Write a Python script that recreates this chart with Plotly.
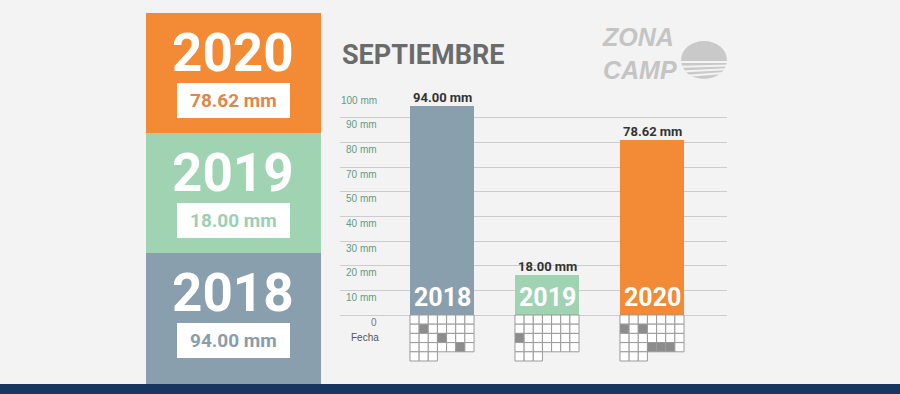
import plotly.graph_objects as go

# ---------------- data ----------------
years = ["2018", "2019", "2020"]
rain_mm = [94.00, 18.00, 78.62]
value_labels = ["94.00 mm", "18.00 mm", "78.62 mm"]
bar_colors = ["#8a9fad", "#9fd3b2", "#f38a36"]
box_text_colors = ["#8a9dab", "#9ccfb3", "#e0874a"]
tick_labels = ["0", "10 mm", "20 mm", "30 mm", "40 mm", "50 mm", "70 mm", "80 mm", "90 mm", "100 mm"]
# calendar cells (index 0..30 in a 7-column grid) that are highlighted
rain_cells = {"2018": [8, 17, 26], "2019": [14], "2020": [7, 9, 24, 25, 26]}
n_cells = 31
title = "SEPTIEMBRE"

# ---------------- layout geometry ----------------
W, H = 900, 394
ML, MR, MT, MB = 340, 173, 93, 30
PW, PH = W - ML - MR, H - MT - MB
PX_PER_UNIT = 2.22            # px per mm
Y_MIN = -(PH - 100 * PX_PER_UNIT) / PX_PER_UNIT
X_PX_PER_CAT = 105
X0 = (442 - ML) / X_PX_PER_CAT
X_RANGE = [-X0, PW / X_PX_PER_CAT - X0]
BAR_W = 0.61

def px_x(px):
    return (px - ML) / PW

def px_y(py):
    return (H - MB - py) / PH

BOLDF = "Roboto, Liberation Sans, Arial, sans-serif"
xs = list(range(len(years)))

fig = go.Figure()
fig.add_trace(go.Bar(x=xs, y=rain_mm, width=BAR_W, marker=dict(color=bar_colors, line=dict(width=0)),
                     hoverinfo="skip", showlegend=False))

shapes = []
annotations = []

# tick labels (evenly spaced gridlines, as in the original)
tick_vals = [i * 100 / (len(tick_labels) - 1) for i in range(len(tick_labels))]
for tv, tl in zip(tick_vals, tick_labels):
    annotations.append(dict(x=px_x(378), y=tv, xref="paper", yref="y", text=tl, showarrow=False,
                            xanchor="right", yanchor="middle", yshift=-7, borderpad=0,
                            font=dict(family="Liberation Sans, Arial", size=10,
                                      color="#777777" if tl == "0" else "#5f9c85")))
annotations.append(dict(x=px_x(365), y=0, xref="paper", yref="y", text="Fecha", showarrow=False,
                        xanchor="center", yanchor="middle", yshift=-22, borderpad=0,
                        font=dict(family="Liberation Sans, Arial", size=10, color="#555555")))

# value labels and year labels on the bars
for x, v, lab, yr in zip(xs, rain_mm, value_labels, years):
    annotations.append(dict(x=x, y=v, text="<b>%s</b>" % lab, showarrow=False, yanchor="middle", yshift=9,
                            borderpad=0, font=dict(family=BOLDF, size=13, color="#333333")))
    annotations.append(dict(x=x, y=0, text="<b>%s</b>" % yr, showarrow=False, yanchor="middle", yshift=18,
                            borderpad=0, font=dict(family=BOLDF, size=25, color="white")))

# calendars below bars
cell_w = BAR_W / 7
cell_h = 9.2 / PX_PER_UNIT
for x, yr in zip(xs, years):
    left = x - BAR_W / 2
    for i in range(n_cells):
        r, c = divmod(i, 7)
        shapes.append(dict(type="rect", xref="x", yref="y",
                           x0=left + c * cell_w, x1=left + (c + 1) * cell_w,
                           y0=-(r + 1) * cell_h, y1=-r * cell_h,
                           line=dict(color="#9a9a9a", width=1),
                           fillcolor="#8c8c8c" if i in rain_cells[yr] else "white", layer="above"))

# left panel blocks (top to bottom: 2020, 2019, 2018)
block_tops = [253, 133, 13]
block_bottoms = [384, 253, 133]
for yr, lab, col, tcol, top, bot in zip(years, value_labels, bar_colors, box_text_colors, block_tops, block_bottoms):
    shapes.append(dict(type="rect", xref="paper", yref="paper", x0=px_x(146), x1=px_x(321),
                       y0=px_y(bot), y1=px_y(top), fillcolor=col, line=dict(width=0), layer="below"))
    shapes.append(dict(type="rect", xref="paper", yref="paper", x0=px_x(177), x1=px_x(290),
                       y0=px_y(top + 105), y1=px_y(top + 70), fillcolor="white", line=dict(width=0)))
    annotations.append(dict(x=px_x(233), y=px_y(top + 40), xref="paper", yref="paper", text="<b>%s</b>" % yr,
                            showarrow=False, xanchor="center", yanchor="middle", borderpad=0,
                            font=dict(family=BOLDF, size=53, color="white")))
    annotations.append(dict(x=px_x(233), y=px_y(top + 87.5), xref="paper", yref="paper", text="<b>%s</b>" % lab,
                            showarrow=False, xanchor="center", yanchor="middle", borderpad=0,
                            font=dict(family=BOLDF, size=19, color=tcol)))

# title
annotations.append(dict(x=px_x(341), y=px_y(55), xref="paper", yref="paper", text="<b>%s</b>" % title,
                        showarrow=False, xanchor="left", yanchor="middle", borderpad=0,
                        font=dict(family=BOLDF, size=27, color="#6b6b6b")))

# logo
shapes.append(dict(type="circle", xref="paper", yref="paper", x0=px_x(681), x1=px_x(727),
                   y0=px_y(79), y1=px_y(41), fillcolor="#c9c9c9", line=dict(width=0)))
for k, py in enumerate([62, 67, 72, 77]):
    shapes.append(dict(type="line", xref="paper", yref="paper", x0=px_x(672), x1=px_x(730),
                       y0=px_y(py), y1=px_y(py - 1.5 * k), line=dict(color="#f3f3f3", width=2)))
annotations.append(dict(x=px_x(601), y=px_y(53), xref="paper", yref="paper",
                        text="<b><i>ZONA<br>CAMP</i></b>",
                        showarrow=False, xanchor="left", yanchor="middle", align="left", borderpad=0,
                        font=dict(family="Liberation Sans, Arial", size=25, color="#c4c4c4")))

# bottom navy band
shapes.append(dict(type="rect", xref="paper", yref="paper", x0=px_x(-2), x1=px_x(W + 2),
                   y0=px_y(H + 2), y1=px_y(384), fillcolor="#17355f", line=dict(width=0)))

fig.update_layout(
    width=W, height=H,
    margin=dict(l=ML, r=MR, t=MT, b=MB, pad=0),
    paper_bgcolor="#f3f3f3", plot_bgcolor="rgba(0,0,0,0)",
    shapes=shapes, annotations=annotations, showlegend=False,
    xaxis=dict(range=X_RANGE, showgrid=False, zeroline=False, showticklabels=False, ticks="", fixedrange=True),
    yaxis=dict(range=[Y_MIN, 100], tickvals=tick_vals, showticklabels=False, ticks="",
               showgrid=True, gridcolor="#cccccc", gridwidth=1, zeroline=False, fixedrange=True),
    bargap=0,
)

fig.write_html("out.html", config={"displayModeBar": False},
               post_script="document.body.style.margin='0';document.body.style.overflow='hidden';")
